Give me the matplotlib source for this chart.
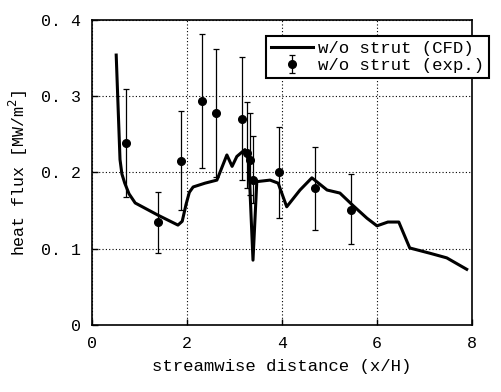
import matplotlib

matplotlib.use("Agg")
import matplotlib.pyplot as plt

# CFD curve (x/H, heat flux MW/m2)
cfd_x = [0.51, 0.59, 0.63, 0.69, 0.78, 0.91, 1.39, 1.81, 1.90, 1.98, 2.05, 2.13,
         2.38, 2.63, 2.84, 2.95, 3.05, 3.22, 3.30, 3.39, 3.47, 3.75, 3.92, 4.10,
         4.38, 4.63, 4.95, 5.22, 5.49, 5.79, 6.00, 6.23, 6.46, 6.69, 7.12, 7.47, 7.89]
cfd_y = [0.354, 0.217, 0.198, 0.186, 0.172, 0.160, 0.144, 0.131, 0.136, 0.158,
         0.174, 0.181, 0.186, 0.190, 0.223, 0.208, 0.221, 0.230, 0.215, 0.085,
         0.188, 0.190, 0.186, 0.155, 0.177, 0.193, 0.177, 0.173, 0.157, 0.140,
         0.130, 0.135, 0.135, 0.101, 0.094, 0.088, 0.073]

# experimental points with error bar bounds
exp_x = [0.72, 1.39, 1.87, 2.32, 2.61, 3.16, 3.26, 3.33, 3.39, 3.94, 4.69, 5.45]
exp_y = [0.239, 0.135, 0.215, 0.294, 0.278, 0.270, 0.226, 0.216, 0.190, 0.200, 0.180, 0.151]
exp_hi = [0.310, 0.175, 0.280, 0.382, 0.362, 0.352, 0.293, 0.278, 0.248, 0.260, 0.233, 0.198]
exp_lo = [0.168, 0.094, 0.151, 0.206, 0.194, 0.190, 0.180, 0.170, 0.160, 0.140, 0.125, 0.106]

xticks = [0, 2, 4, 6, 8]
yticks = [0, 0.1, 0.2, 0.3, 0.4]
ytick_labels = ["0", "0. 1", "0. 2", "0. 3", "0. 4"]

plt.rcParams["font.family"] = ["Liberation Mono", "DejaVu Sans"]
plt.rcParams["font.size"] = 12

fig = plt.figure(figsize=(5.01, 3.92), dpi=100)
ax = fig.add_axes([0.1836, 0.171, 0.7584, 0.778])

err_lo = [y - lo for y, lo in zip(exp_y, exp_lo)]
err_hi = [hi - y for y, hi in zip(exp_y, exp_hi)]

ax.plot(cfd_x, cfd_y, color="black", linewidth=2.2, label="w/o strut (CFD)", zorder=3)
ax.errorbar(exp_x, exp_y, yerr=[err_lo, err_hi], fmt="o", color="black",
            markersize=5.5, elinewidth=0.9, capsize=2, capthick=0.9,
            label="w/o strut (exp.)", zorder=4)

ax.set_xlim(0, 8)
ax.set_ylim(0, 0.4)
ax.set_xticks(xticks)
ax.set_yticks(yticks)
ax.set_yticklabels(ytick_labels)
ax.tick_params(direction="in", length=4, width=1, pad=8)
ax.grid(True, linestyle=(0, (1, 2)), color="black", linewidth=0.8)
for s in ax.spines.values():
    s.set_linewidth(1.2)

ax.set_xlabel("streamwise distance (x/H)", labelpad=6, fontsize=12.5)
ax.set_ylabel("heat flux [MW/m$^2$]", labelpad=8)

leg = ax.legend(loc="upper right", bbox_to_anchor=(498 / 501, 1 - 27 / 392),
                bbox_transform=fig.transFigure, fancybox=False, framealpha=1,
                edgecolor="black", borderpad=0.3, handlelength=2.4,
                handletextpad=0.3, labelspacing=0.1, fontsize=12.5)
leg.get_frame().set_linewidth(1.5)

fig.savefig("out.png", dpi=100)
